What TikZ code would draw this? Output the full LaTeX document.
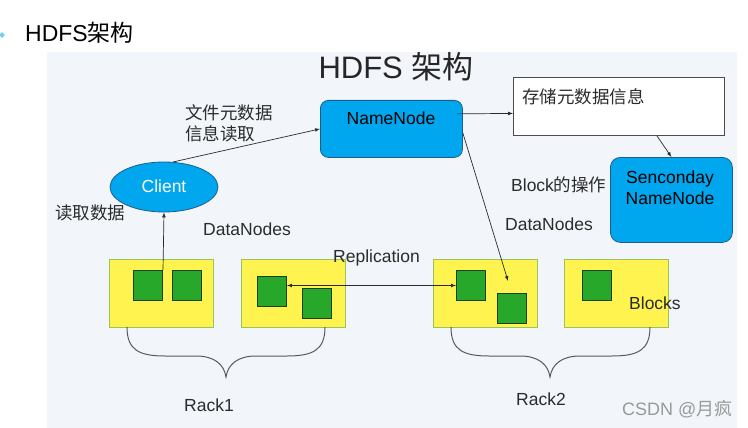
\documentclass[tikz,border=0pt]{standalone}
\usepackage{fontspec}
\setmainfont{Liberation Sans}
\newfontfamily\cjk{Noto Sans CJK SC}
\usetikzlibrary{shapes,backgrounds,positioning}
\usetikzlibrary{arrows}

\definecolor{panelbg}{HTML}{F2F6FA}
\definecolor{nodeblue}{HTML}{00A6EE}
\definecolor{nodeedge}{HTML}{1D5F8C}
\definecolor{rackyellow}{HTML}{FFF350}
\definecolor{rackedge}{HTML}{98C45A}
\definecolor{blockgreen}{HTML}{27A82B}
\definecolor{blockedge}{HTML}{1C3F1C}
\definecolor{txt}{HTML}{2B2B2B}

\tikzset{
  master/.style={draw=nodeedge, fill=nodeblue, rounded corners=8pt, anchor=north west, line width=0.8pt},
  rackbox/.style={draw=rackedge, fill=rackyellow, anchor=north west, minimum width=104pt, minimum height=68pt, line width=0.8pt},
  block/.style={draw=blockedge, fill=blockgreen, anchor=north west, minimum width=29pt, minimum height=30pt, line width=1pt},
  lbl/.style={text=txt, font=\fontsize{17.5}{21}\selectfont, inner sep=0pt},
  link/.style={draw=txt, line width=0.7pt},
  brace/.style={draw=black!65, line width=1pt},
}

\begin{document}
\begin{tikzpicture}[x=1pt, y=-1pt]
\useasboundingbox (0,0) rectangle (748,428);
% slide heading
\node[diamond, fill=nodeblue!55, minimum size=6pt, inner sep=0pt] (bullet) at (2,35) {};
\node[anchor=west, inner sep=0pt, text=black, font=\fontsize{23}{25}\selectfont] (title) at (25,33) {HDFS{\cjk 架构}};
\node[fill=panelbg, anchor=north west, minimum width=690pt, minimum height=376pt, inner sep=0pt] (panel) at (47,52) {};
\node[inner sep=0pt, text=black!85, font=\fontsize{31}{33}\selectfont] (head) at (396,67) {HDFS {\cjk 架构}};

% namenode, metadata box, secondary namenode
\node[master, minimum width=142pt, minimum height=57pt] (namenode) at (320,100) {};
\node[lbl, text=black] (nntext) at (391,118) {NameNode};
\node[draw=black!70, fill=white, anchor=north west, minimum width=211pt, minimum height=58pt, line width=0.8pt] (store) at (513,77) {};
\node[lbl, anchor=west] (storetext) at (522,97) {\cjk 存储元数据信息};
\node[master, rounded corners=10pt, minimum width=122pt, minimum height=85pt] (sec) at (610,157) {};
\node[lbl, text=black, align=center] (sectext) at (670,188) {Senconday\\NameNode};

% client
\node[ellipse, draw=nodeedge, fill=nodeblue, line width=0.8pt, minimum width=108pt, minimum height=50pt, inner sep=0pt] (client) at (164,187) {};
\node[lbl, text=white] (clienttext) at (164,186) {Client};

% datanodes (yellow) and blocks (green)
\foreach \n/\x in {1/109, 2/241, 3/433, 4/564}
  \node[rackbox] (dn\n) at (\x,259) {};
\foreach \n/\x/\y in {1/133/270, 2/172/270, 3/257/276, 4/302/288, 5/456/270, 6/497/293, 7/582/270}
  \node[block] (b\n) at (\x,\y) {};

% labels
\node[lbl, anchor=west, align=left] (fileinfo) at (185,123) {\cjk 文件元数据\\\cjk 信息读取};
\node[lbl, anchor=west] (readdata) at (55,213) {\cjk 读取数据};
\node[lbl] (dnleft) at (247,229) {DataNodes};
\node[lbl] (dnright) at (549,224) {DataNodes};
\node[lbl, anchor=west] (repl) at (333,258) {Replication};
\node[lbl, anchor=west] (blockop) at (511,185) {Block{\cjk 的操作}};
\node[lbl, anchor=west] (blocks) at (629,303) {Blocks};

% connectors
\coordinate (hit) at (508,281);
\draw[link, -latex] (client.70) -- (namenode.west);
\draw[link, -latex] (b1.north east) -- (client.south);
\draw[link, -latex] ([xshift=-6pt, yshift=15pt]namenode.east) -- ([yshift=-7pt]store.west);
\draw[link, -latex] ([xshift=38pt]store.south) -- (sec.north);
\draw[link, -latex] ([yshift=-4pt]namenode.east) -- (hit);
\draw[link, latex-latex] (b5.west -| b3.east) -- (b5.west);

% racks
\foreach \l/\m/\r/\n/\lx/\ly in {127/226/325/1/209/405, 451/550/650/2/541/399} {
  \draw[brace] (\l,327) .. controls (\l,350) and (\l+12,356) .. (\l+38,356) -- (\m-30,356)
    .. controls (\m-12,356) and (\m-2,364) .. (\m,377)
    .. controls (\m+2,364) and (\m+12,356) .. (\m+30,356) -- (\r-38,356)
    .. controls (\r-12,356) and (\r,350) .. (\r,327);
  \node[lbl] (rack\n) at (\lx,\ly) {Rack\n};
}
\node[anchor=west, inner sep=0pt, text=black!40, font=\fontsize{18}{20}\selectfont] (mark) at (622,409) {CSDN @{\cjk 月疯}};
\end{tikzpicture}
\end{document}
